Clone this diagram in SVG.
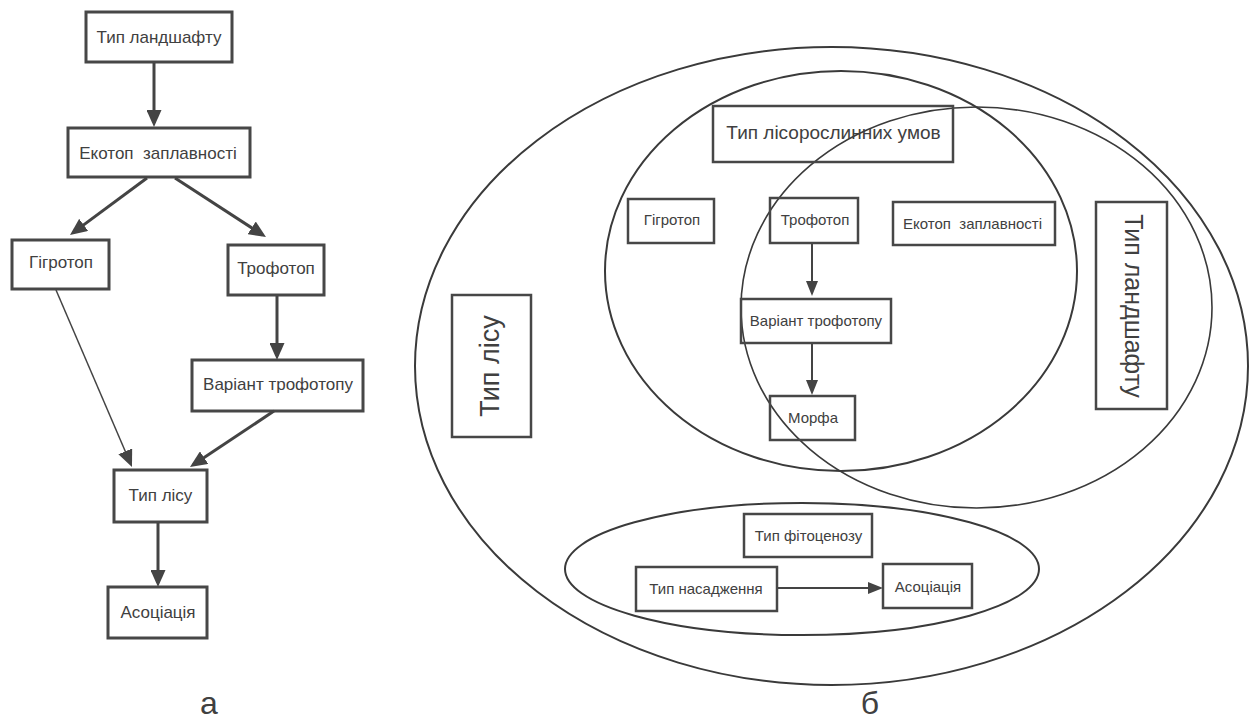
<svg xmlns="http://www.w3.org/2000/svg" width="1250" height="724" viewBox="0 0 1250 724">
<style>
text{font-family:"Liberation Sans",Arial,sans-serif;fill:#404040;text-anchor:middle}
.bl rect{fill:none;stroke:#474747;stroke-width:3}
.br rect{fill:none;stroke:#474747;stroke-width:2.5}
.t17{font-size:17px}
.t15{font-size:15px}
.ell{fill:none;stroke:#3a3a3a;stroke-width:2}
.c3{stroke:#444;stroke-width:3;fill:none}
.c2{stroke:#444;stroke-width:2;fill:none}
.c1{stroke:#444;stroke-width:1.5;fill:none}
.lbl{font-size:32px}
</style>
<defs>
<marker id="ah" markerUnits="userSpaceOnUse" markerWidth="17" markerHeight="15" refX="13" refY="7.5" orient="auto" viewBox="0 0 17 15">
<path d="M0,0 L17,7.5 L0,15 z" fill="#444"/>
</marker>
<marker id="as" markerUnits="userSpaceOnUse" markerWidth="15" markerHeight="12" refX="11" refY="6" orient="auto" viewBox="0 0 15 12">
<path d="M0,0 L15,6 L0,12 z" fill="#444"/>
</marker>
</defs>

<!-- Left diagram -->
<g id="a-landscape" class="bl"><rect x="86" y="12" width="146" height="50"/><text class="t17" x="159" y="43">Тип ландшафту</text></g>
<g id="a-ecotop" class="bl"><rect x="68" y="128" width="182" height="49"/><text class="t17" x="158" y="159" xml:space="preserve">Екотоп  заплавності</text></g>
<g id="a-gigrotop" class="bl"><rect x="12" y="240" width="97" height="49"/><text class="t17" x="61" y="268">Гігротоп</text></g>
<g id="a-trofotop" class="bl"><rect x="228" y="245" width="96" height="50"/><text class="t17" x="276" y="274">Трофотоп</text></g>
<g id="a-variant" class="bl"><rect x="192" y="360" width="171" height="51"/><text class="t17" x="278" y="390">Варіант трофотопу</text></g>
<g id="a-forest" class="bl"><rect x="114" y="470" width="93" height="52"/><text class="t17" x="160.5" y="501">Тип лісу</text></g>
<g id="a-assoc" class="bl"><rect x="108" y="587" width="99" height="51"/><text class="t17" x="158" y="618">Асоціація</text></g>

<g id="a-connectors">
<line class="c3" x1="154" y1="63" x2="154" y2="123" marker-end="url(#ah)"/>
<line class="c3" x1="147" y1="178" x2="73.2" y2="232.6" marker-end="url(#ah)"/>
<line class="c3" x1="175" y1="178" x2="262.6" y2="234.9" marker-end="url(#ah)"/>
<line class="c3" x1="277" y1="296" x2="277" y2="356" marker-end="url(#ah)"/>
<line class="c1" x1="56" y1="290" x2="130.4" y2="463.3" marker-end="url(#ah)"/>
<line class="c3" x1="274" y1="411" x2="193.3" y2="464.8" marker-end="url(#ah)"/>
<line class="c3" x1="158" y1="523" x2="158" y2="583" marker-end="url(#ah)"/>
</g>

<text class="lbl" x="209" y="714">а</text>

<!-- Right diagram -->
<g id="regions">
<ellipse class="ell" cx="831.5" cy="366" rx="416.5" ry="319"/>
<ellipse class="ell" cx="841" cy="271" rx="236" ry="200"/>
<ellipse class="ell" cx="976.5" cy="307.5" rx="235.5" ry="200.5" style="stroke-width:1.6"/>
<ellipse class="ell" cx="802" cy="569" rx="237" ry="66"/>
</g>

<g id="b-forest" class="br"><rect x="452" y="295" width="79" height="142"/><text x="0" y="0" style="font-size:27px" transform="translate(499,366) rotate(-90)">Тип лісу</text></g>
<g id="b-conditions" class="br"><rect x="713" y="106" width="240" height="56"/><text x="833.5" y="139" style="font-size:19px">Тип лісорослинних умов</text></g>
<g id="b-gigrotop" class="br"><rect x="628" y="199" width="86" height="44"/><text class="t15" x="672" y="224.5">Гігротоп</text></g>
<g id="b-trofotop" class="br"><rect x="770" y="198" width="88" height="45"/><text class="t15" x="815" y="225">Трофотоп</text></g>
<g id="b-ecotop" class="br"><rect x="893" y="202" width="162" height="43"/><text class="t15" x="972.5" y="229" xml:space="preserve">Екотоп  заплавності</text></g>
<g id="b-landscape" class="br"><rect x="1096" y="202" width="71" height="207"/><text x="0" y="0" style="font-size:25px" transform="translate(1124.5,306) rotate(90)">Тип ландшафту</text></g>
<g id="b-variant" class="br"><rect x="741" y="299" width="150" height="44"/><text class="t15" x="816" y="325.5">Варіант трофотопу</text></g>
<g id="b-morfa" class="br"><rect x="770" y="396" width="85" height="44"/><text class="t15" x="813" y="423">Морфа</text></g>
<g id="b-phyto" class="br"><rect x="744" y="514" width="128" height="43"/><text class="t15" x="808.5" y="541">Тип фітоценозу</text></g>
<g id="b-planting" class="br"><rect x="636" y="567" width="141" height="44"/><text class="t15" x="706" y="593.5">Тип насадження</text></g>
<g id="b-assoc" class="br"><rect x="883" y="564" width="89" height="44"/><text class="t15" x="928" y="591.5">Асоціація</text></g>

<g id="b-connectors">
<line class="c2" x1="812" y1="244" x2="812" y2="292" marker-end="url(#as)"/>
<line class="c2" x1="812" y1="344" x2="812" y2="391" marker-end="url(#as)"/>
<line class="c2" x1="778" y1="588" x2="879" y2="588" marker-end="url(#as)"/>
</g>

<text class="lbl" x="870" y="714">б</text>
</svg>
